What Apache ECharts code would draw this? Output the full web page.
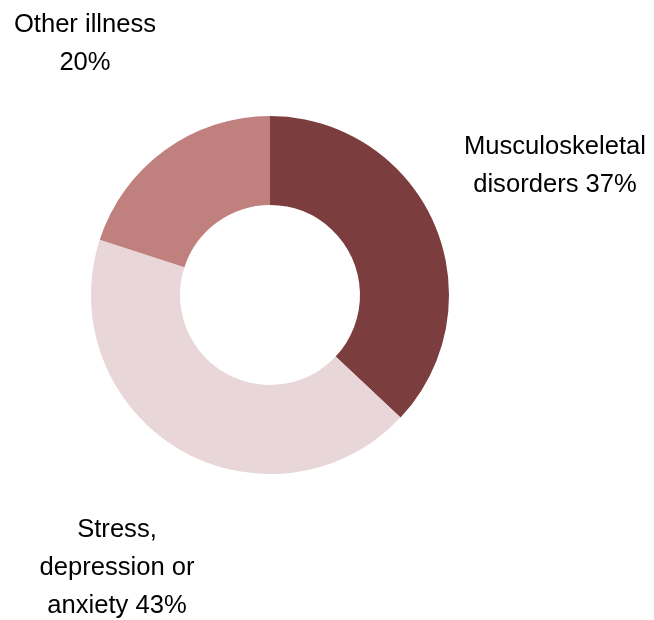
<!DOCTYPE html>
<html>
<head>
<meta charset="utf-8">
<script src="https://cdn.jsdelivr.net/npm/echarts@6/dist/echarts.min.js"></script>
<style>
  html, body { margin: 0; padding: 0; background: #fff; }
  #chart { width: 654px; height: 620px; }
</style>
</head>
<body>
<div id="chart"></div>
<script>
// slices, clockwise from 12 o'clock
const categories = ['Musculoskeletal\ndisorders', 'Stress,\ndepression or\nanxiety', 'Other illness\n'];
const values = [37, 43, 20];
const colors = ['#7b3d3e', '#e8d6d8', '#bf807e'];

// where each label sits (the source puts them by hand, no leader lines)
const labelSpots = [
  { x: 555, y: 166 },
  { x: 117, y: 568 },
  { x: 85, y: 44 },
];

const myChart = echarts.init(document.getElementById('chart'));

myChart.setOption({
  animation: false,
  series: [{
    type: 'pie',
    center: [270, 295],
    radius: [90, 179],
    startAngle: 90,
    clockwise: true,
    data: categories.map((name, i) => ({
      name,
      value: values[i],
      itemStyle: { color: colors[i] },
    })),
    label: {
      show: true,
      formatter: (p) => {
        // "Other illness" has its percent on its own line
        if (p.name.endsWith('\n')) return p.name + p.value + '%';
        return p.name + ' ' + p.value + '%';
      },
      fontFamily: 'Liberation Sans, Arial, sans-serif',
      fontSize: 25.6,
      lineHeight: 38,
      color: '#000',
      align: 'center',
      overflow: 'none',
      width: 300,
    },
    labelLine: { show: false },
    labelLayout: (params) => ({
      x: labelSpots[params.dataIndex].x,
      y: labelSpots[params.dataIndex].y,
      align: 'center',
      verticalAlign: 'middle',
    }),
    emphasis: { disabled: true },
  }],
});
</script>
</body>
</html>
